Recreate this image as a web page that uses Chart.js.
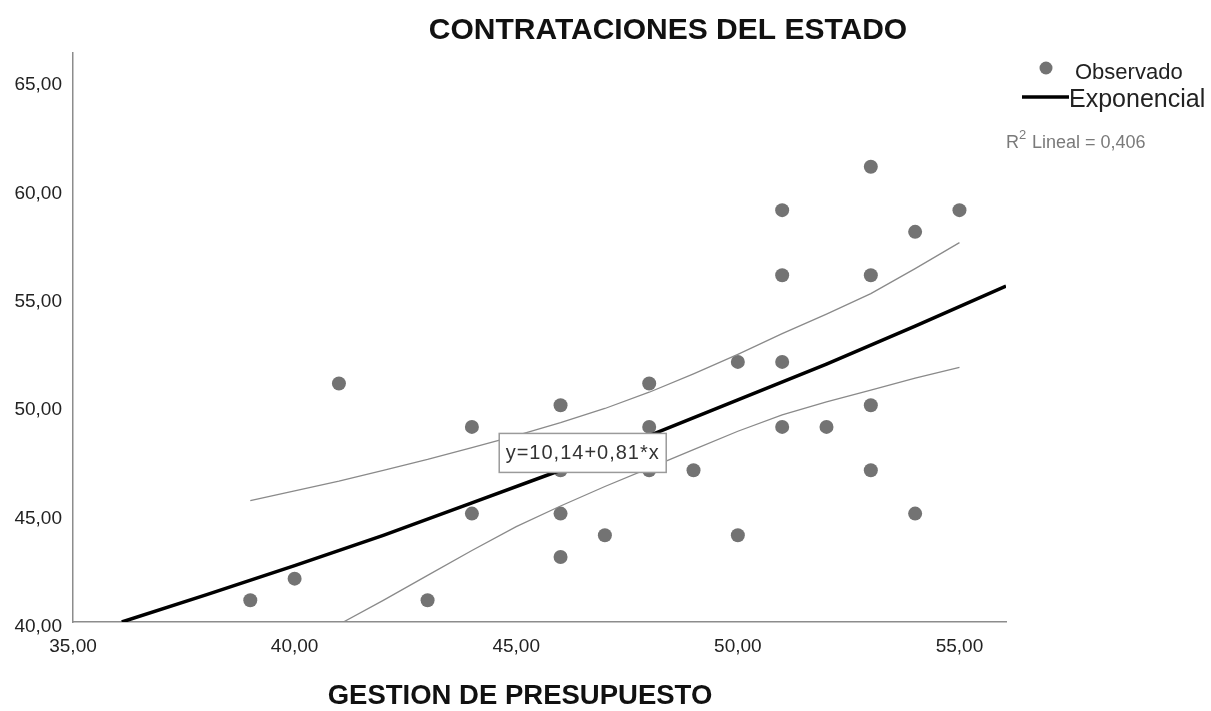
<!DOCTYPE html>
<html>
<head>
    <title>Contrataciones del Estado</title>
    <meta charset="utf-8" />
    <style>
        html, body { margin: 0; padding: 0; background: #fff; }
        #wrap { width: 1211px; height: 711px; position: relative; }
    </style>
</head>
<body>

<div id="wrap"><canvas id="chart"></canvas></div>

<script src="https://cdn.jsdelivr.net/npm/chart.js@4.4.1/dist/chart.umd.min.js"></script>

<script>
    // observed points (GESTION DE PRESUPUESTO, CONTRATACIONES DEL ESTADO)
    var obsX = [39, 40, 41, 43, 44, 44, 46, 46, 46, 46, 47, 48, 48, 48, 49, 50, 50, 51, 51, 51, 51, 52, 53, 53, 53, 53, 54, 54, 55];
    var obsY = [41, 42, 51, 41, 49, 45, 50, 47, 45, 43, 44, 51, 49, 47, 47, 52, 44, 59, 56, 52, 49, 49, 61, 56, 50, 47, 58, 45, 59];

    // fitted curve
    var fitX = [36.1, 38, 40, 42, 44, 46, 48, 50, 52, 54, 56.05];
    var fitY = [40.0, 41.25, 42.6, 44.0, 45.5, 47.0, 48.6, 50.25, 51.9, 53.65, 55.5];

    // confidence band, upper and lower
    var upX = [39, 40, 41, 42, 43, 44, 45, 46, 47, 48, 49, 50, 51, 52, 53, 54, 55];
    var upY = [45.6, 46.05, 46.5, 47.0, 47.5, 48.05, 48.6, 49.2, 49.85, 50.6, 51.45, 52.35, 53.3, 54.2, 55.15, 56.3, 57.5];
    var loX = [41.1, 42, 43, 44, 45, 46, 47, 48, 49, 50, 51, 52, 53, 54, 55];
    var loY = [40.0, 41.0, 42.15, 43.3, 44.4, 45.35, 46.25, 47.1, 47.95, 48.8, 49.55, 50.15, 50.7, 51.25, 51.75];

    var xTicks = [35, 40, 45, 50, 55];
    var yTicks = [40, 45, 50, 55, 60, 65];

    var titleText = 'CONTRATACIONES DEL ESTADO';
    var xTitleText = 'GESTION DE PRESUPUESTO';
    var eqText = 'y=10,14+0,81*x';
    var eqPos = [46.5, 47.8];
    var r2Text = '0,406';

    function pts(xs, ys) {
        return xs.map(function (x, i) { return { x: x, y: ys[i] }; });
    }
    function fmt(v) { return v.toFixed(2).replace('.', ','); }

    var FONT = '"Liberation Sans", Arial, sans-serif';

    // title, axis title, legend and equation box
    var extras = {
        id: 'extras',
        afterDatasetsDraw: function (chart) {
            var ctx = chart.ctx;
            var sx = chart.scales.x, sy = chart.scales.y;
            var cx = sx.getPixelForValue(eqPos[0]);
            var cy = sy.getPixelForValue(eqPos[1]);
            ctx.save();
            ctx.font = '20px ' + FONT;
            ctx.letterSpacing = '1px';
            var w = 167;
            var h = 39;
            ctx.fillStyle = '#fff';
            ctx.fillRect(cx - w / 2, cy - h / 2, w, h);
            ctx.strokeStyle = '#9a9a9a';
            ctx.lineWidth = 1.5;
            ctx.strokeRect(cx - w / 2, cy - h / 2, w, h);
            ctx.fillStyle = '#333';
            ctx.textAlign = 'center';
            ctx.textBaseline = 'middle';
            ctx.fillText(eqText, cx, cy + 1);
            ctx.restore();
        },
        afterDraw: function (chart) {
            var ctx = chart.ctx;
            ctx.save();
            ctx.fillStyle = '#111';
            ctx.textAlign = 'center';
            ctx.textBaseline = 'middle';
            ctx.font = 'bold 30px ' + FONT;
            ctx.fillText(titleText, 668, 31);
            ctx.font = 'bold 27.5px ' + FONT;
            ctx.fillText(xTitleText, 520, 696);

            // legend
            ctx.textAlign = 'left';
            ctx.fillStyle = '#737373';
            ctx.beginPath();
            ctx.arc(1046, 68, 6.5, 0, Math.PI * 2);
            ctx.fill();
            ctx.fillStyle = '#222';
            ctx.font = '22px ' + FONT;
            ctx.fillText('Observado', 1075, 73);
            ctx.strokeStyle = '#000';
            ctx.lineWidth = 3.5;
            ctx.beginPath();
            ctx.moveTo(1022, 97);
            ctx.lineTo(1069, 97);
            ctx.stroke();
            ctx.font = '25px ' + FONT;
            ctx.fillText('Exponencial', 1069, 100);

            ctx.fillStyle = '#7a7a7a';
            ctx.font = '18px ' + FONT;
            ctx.fillText('R', 1006, 143);
            ctx.font = '13px ' + FONT;
            ctx.fillText('2', 1019, 135);
            ctx.font = '18px ' + FONT;
            ctx.fillText(' Lineal = ' + r2Text, 1027, 143);
            ctx.restore();
        }
    };

    var ctx = document.getElementById('chart').getContext('2d');
    new Chart(ctx, {
        type: 'scatter',
        data: {
            datasets: [{
                label: 'Exponencial',
                data: pts(fitX, fitY),
                showLine: true,
                borderColor: '#000',
                borderWidth: 3.5,
                pointRadius: 0
            }, {
                label: 'upper',
                data: pts(upX, upY),
                showLine: true,
                borderColor: '#8a8a8a',
                borderWidth: 1.3,
                pointRadius: 0
            }, {
                label: 'lower',
                data: pts(loX, loY),
                showLine: true,
                borderColor: '#8a8a8a',
                borderWidth: 1.3,
                pointRadius: 0
            }, {
                label: 'Observado',
                data: pts(obsX, obsY),
                backgroundColor: '#737373',
                borderWidth: 0,
                pointRadius: 7
            }]
        },
        options: {
            responsive: true,
            maintainAspectRatio: false,
            animation: false,
            layout: { padding: { left: 0, top: 53, right: 205, bottom: 39 } },
            plugins: {
                legend: { display: false },
                tooltip: { enabled: false }
            },
            scales: {
                x: {
                    type: 'linear',
                    min: 35,
                    max: 56.05,
                    grid: { display: false },
                    border: { display: true, color: '#8c8c8c', width: 1.5 },
                    afterBuildTicks: function (s) { s.ticks = xTicks.map(function (v) { return { value: v }; }); },
                    afterFit: function (s) { s.height = 50; },
                    ticks: {
                        color: '#222',
                        font: { size: 19, family: FONT },
                        padding: 5,
                        maxRotation: 0,
                        callback: function (v) { return fmt(v); }
                    }
                },
                y: {
                    type: 'linear',
                    min: 40,
                    max: 66.25,
                    grid: { display: false },
                    border: { display: true, color: '#8c8c8c', width: 1.5 },
                    afterBuildTicks: function (s) { s.ticks = yTicks.map(function (v) { return { value: v }; }); },
                    afterFit: function (s) { s.width = 73; },
                    ticks: {
                        color: '#222',
                        font: { size: 19, family: FONT },
                        padding: 3,
                        labelOffset: 5,
                        callback: function (v) { return fmt(v); }
                    }
                }
            }
        },
        plugins: [extras]
    });
</script>

</body>
</html>
